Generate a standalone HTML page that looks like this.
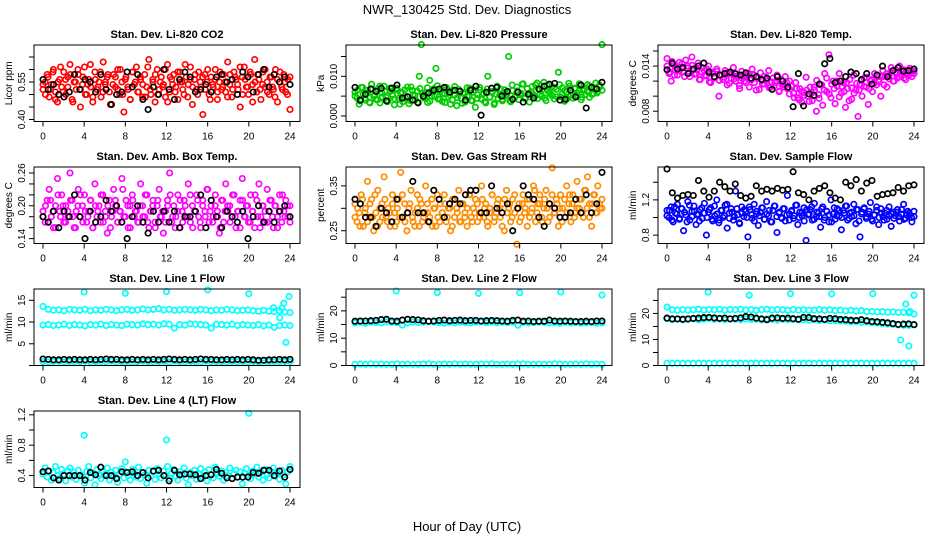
<!DOCTYPE html>
<html><head><meta charset="utf-8">
<style>
body{margin:0;background:#fff;}
svg{display:block;font-family:"Liberation Sans",Arial,sans-serif;}
</style></head>
<body>
<svg id="chart" width="936" height="540" viewBox="0 0 936 540">
<rect width="936" height="540" fill="#fff"/>
<text x="467" y="14" font-size="13" text-anchor="middle">NWR_130425  Std. Dev. Diagnostics</text>
<text x="467" y="531" font-size="13" text-anchor="middle">Hour of Day (UTC)</text>
</svg>
<script>
const hourTicks=[0,4,8,12,16,20,24];
const co2Color=[0.52,0.55,0.58,0.49,0.54,0.60,0.51,0.47,0.56,0.53,0.59,0.50,0.57,0.62,0.48,0.55,0.52,0.58,0.45,0.54,0.61,0.50,0.56,0.53,0.47,0.59,0.52,0.55,0.49,0.63,0.54,0.57,0.51,0.46,0.58,0.53,0.60,0.50,0.55,0.43,0.57,0.52,0.48,0.59,0.54,0.61,0.51,0.56,0.49,0.58,0.53,0.64,0.50,0.55,0.47,0.60,0.52,0.57,0.54,0.49,0.62,0.51,0.56,0.58,0.53,0.48,0.59,0.55,0.50,0.57,0.54,0.61,0.46,0.56,0.52,0.59,0.53,0.42,0.58,0.55,0.50,0.57,0.53,0.60,0.48,0.55,0.52,0.58,0.51,0.63,0.54,0.49,0.59,0.56,0.52,0.45,0.57,0.61,0.53,0.50,0.58,0.54,0.64,0.51,0.56,0.48,0.59,0.53,0.55,0.50,0.57,0.52,0.60,0.47,0.55,0.53,0.58,0.51,0.56,0.44];
const co2ColorB=[0.54,0.50,0.57,0.52,0.59,0.48,0.55,0.61,0.51,0.56,0.53,0.58,0.47,0.55,0.60,0.52,0.57,0.50,0.54,0.62,0.49,0.56,0.53,0.59,0.51,0.55,0.58,0.46,0.54,0.57,0.52,0.60,0.50,0.56,0.53,0.48,0.59,0.55,0.51,0.57,0.54,0.49,0.61,0.52,0.56,0.58,0.50,0.55,0.53,0.60,0.47,0.57,0.54,0.51,0.59,0.55,0.52,0.62,0.49,0.56,0.53,0.58,0.50,0.55,0.57,0.52,0.60,0.48,0.54,0.56,0.51,0.59,0.53,0.55,0.49,0.58,0.52,0.57,0.54,0.61,0.50,0.56,0.53,0.59,0.47,0.55,0.58,0.52,0.54,0.60,0.51,0.57,0.53,0.49,0.56,0.59,0.52,0.55,0.50,0.57];
const co2Black=[0.56,0.52,0.54,0.50,0.49,0.51,0.58,0.52,0.56,0.55,0.51,0.58,0.52,0.46,0.50,0.51,0.59,0.53,0.58,0.48,0.44,0.53,0.50,0.60,0.52,0.48,0.56,0.59,0.57,0.51,0.52,0.54,0.51,0.57,0.58,0.55,0.56,0.50,0.59,0.57,0.51,0.58,0.60,0.53,0.58,0.55,0.57,0.54];
const presColor=[0.0060,0.0045,0.0030,0.0072,0.0055,0.0040,0.0065,0.0035,0.0080,0.0050,0.0042,0.0068,0.0033,0.0058,0.0075,0.0047,0.0038,0.0062,0.0052,0.0028,0.0070,0.0044,0.0057,0.0036,0.0066,0.0049,0.0031,0.0073,0.0054,0.0041,0.0063,0.0100,0.0180,0.0046,0.0059,0.0034,0.0090,0.0051,0.0069,0.0120,0.0043,0.0061,0.0037,0.0056,0.0072,0.0048,0.0030,0.0064,0.0053,0.0026,0.0067,0.0045,0.0058,0.0035,0.0071,0.0050,0.0039,0.0060,0.0022,0.0054,0.0066,0.0042,0.0057,0.0033,0.0100,0.0047,0.0062,0.0029,0.0055,0.0044,0.0068,0.0038,0.0059,0.0052,0.0150,0.0036,0.0064,0.0048,0.0073,0.0041,0.0057,0.0081,0.0046,0.0069,0.0035,0.0061,0.0053,0.0078,0.0044,0.0066,0.0050,0.0085,0.0039,0.0063,0.0056,0.0074,0.0043,0.0067,0.0110,0.0048,0.0071,0.0037,0.0060,0.0082,0.0052,0.0045,0.0068,0.0058,0.0076,0.0041,0.0064,0.0054,0.0079,0.0047,0.0070,0.0057,0.0083,0.0062,0.0074,0.0180];
const presColorB=[0.0050,0.0065,0.0038,0.0072,0.0045,0.0058,0.0033,0.0068,0.0052,0.0041,0.0075,0.0048,0.0062,0.0036,0.0070,0.0055,0.0043,0.0066,0.0030,0.0059,0.0047,0.0073,0.0039,0.0064,0.0051,0.0035,0.0069,0.0056,0.0044,0.0071,0.0037,0.0061,0.0049,0.0076,0.0042,0.0057,0.0034,0.0067,0.0053,0.0040,0.0074,0.0046,0.0063,0.0032,0.0058,0.0050,0.0070,0.0038,0.0065,0.0044,0.0072,0.0054,0.0036,0.0068,0.0048,0.0060,0.0033,0.0075,0.0052,0.0042,0.0066,0.0057,0.0039,0.0078,0.0047,0.0063,0.0055,0.0080,0.0044,0.0069,0.0058,0.0074,0.0049,0.0083,0.0053,0.0066,0.0045,0.0077,0.0060,0.0051,0.0072,0.0048,0.0079,0.0056,0.0064,0.0043,0.0075,0.0059,0.0070,0.0052,0.0081,0.0047,0.0067,0.0062,0.0076,0.0054,0.0071,0.0058,0.0078,0.0065];
const presBlack=[0.0072,0.0040,0.0055,0.0068,0.0062,0.0070,0.0038,0.0070,0.0078,0.0045,0.0048,0.0040,0.0033,0.0050,0.0058,0.0065,0.0068,0.0072,0.0060,0.0065,0.0062,0.0040,0.0065,0.0075,0.0002,0.0060,0.0070,0.0072,0.0050,0.0062,0.0042,0.0060,0.0035,0.0055,0.0045,0.0068,0.0075,0.0080,0.0082,0.0040,0.0042,0.0065,0.0048,0.0078,0.0020,0.0072,0.0068,0.0085];
const tempColor=[0.0150,0.0130,0.0120,0.0142,0.0135,0.0128,0.0145,0.0138,0.0132,0.0148,0.0140,0.0126,0.0152,0.0136,0.0130,0.0144,0.0122,0.0138,0.0134,0.0127,0.0140,0.0118,0.0132,0.0125,0.0136,0.0100,0.0128,0.0122,0.0134,0.0115,0.0130,0.0124,0.0138,0.0120,0.0127,0.0110,0.0133,0.0125,0.0118,0.0130,0.0122,0.0136,0.0128,0.0108,0.0124,0.0131,0.0116,0.0126,0.0120,0.0134,0.0112,0.0124,0.0118,0.0128,0.0106,0.0122,0.0115,0.0126,0.0110,0.0120,0.0113,0.0104,0.0118,0.0098,0.0110,0.0092,0.0105,0.0125,0.0100,0.0112,0.0094,0.0108,0.0080,0.0102,0.0115,0.0088,0.0130,0.0106,0.0155,0.0098,0.0120,0.0090,0.0113,0.0130,0.0104,0.0118,0.0085,0.0110,0.0122,0.0096,0.0128,0.0108,0.0073,0.0116,0.0100,0.0124,0.0112,0.0089,0.0120,0.0106,0.0130,0.0115,0.0122,0.0100,0.0134,0.0126,0.0112,0.0128,0.0138,0.0120,0.0132,0.0124,0.0140,0.0128,0.0135,0.0122,0.0130,0.0137,0.0126,0.0133];
const tempColorB=[0.0140,0.0132,0.0146,0.0128,0.0138,0.0134,0.0143,0.0126,0.0137,0.0131,0.0141,0.0129,0.0135,0.0122,0.0132,0.0127,0.0136,0.0119,0.0130,0.0124,0.0133,0.0121,0.0128,0.0125,0.0131,0.0117,0.0129,0.0123,0.0126,0.0114,0.0124,0.0120,0.0127,0.0112,0.0122,0.0118,0.0125,0.0109,0.0121,0.0116,0.0123,0.0111,0.0119,0.0114,0.0120,0.0107,0.0116,0.0112,0.0118,0.0103,0.0114,0.0098,0.0110,0.0095,0.0106,0.0101,0.0108,0.0093,0.0104,0.0112,0.0121,0.0097,0.0115,0.0108,0.0124,0.0103,0.0116,0.0110,0.0120,0.0099,0.0113,0.0106,0.0118,0.0094,0.0111,0.0104,0.0117,0.0108,0.0121,0.0113,0.0125,0.0110,0.0122,0.0117,0.0128,0.0119,0.0126,0.0115,0.0130,0.0123,0.0133,0.0120,0.0129,0.0126,0.0136,0.0124,0.0131,0.0128,0.0134,0.0130];
const tempBlack=[0.0135,0.0144,0.0136,0.0138,0.0130,0.0136,0.0140,0.0144,0.0132,0.0126,0.0128,0.0130,0.0132,0.0130,0.0128,0.0131,0.0124,0.0126,0.0122,0.0124,0.0109,0.0126,0.0120,0.0112,0.0086,0.0130,0.0087,0.0103,0.0101,0.0116,0.0143,0.0150,0.0118,0.0120,0.0126,0.0132,0.0130,0.0122,0.0130,0.0116,0.0128,0.0140,0.0126,0.0134,0.0138,0.0133,0.0134,0.0136];
const ambColor=[0.19,0.17,0.21,0.23,0.18,0.16,0.20,0.25,0.19,0.22,0.17,0.20,0.18,0.26,0.21,0.16,0.19,0.23,0.18,0.20,0.22,0.17,0.19,0.21,0.16,0.24,0.18,0.20,0.22,0.17,0.19,0.15,0.21,0.18,0.23,0.20,0.17,0.19,0.25,0.18,0.21,0.16,0.20,0.22,0.18,0.19,0.17,0.24,0.20,0.18,0.22,0.16,0.19,0.21,0.17,0.20,0.23,0.18,0.15,0.19,0.21,0.26,0.17,0.20,0.18,0.22,0.16,0.19,0.21,0.18,0.24,0.17,0.20,0.19,0.22,0.18,0.16,0.21,0.19,0.23,0.17,0.20,0.18,0.22,0.19,0.15,0.21,0.17,0.24,0.19,0.20,0.18,0.22,0.16,0.19,0.21,0.25,0.18,0.20,0.17,0.22,0.19,0.16,0.21,0.24,0.18,0.20,0.17,0.23,0.19,0.21,0.16,0.20,0.18,0.22,0.17,0.19,0.21,0.18,0.20];
const ambColorB=[0.18,0.20,0.17,0.21,0.19,0.16,0.22,0.18,0.20,0.17,0.19,0.21,0.18,0.16,0.20,0.22,0.17,0.19,0.18,0.21,0.16,0.20,0.19,0.17,0.22,0.18,0.20,0.16,0.19,0.21,0.17,0.19,0.23,0.18,0.20,0.16,0.21,0.19,0.17,0.20,0.18,0.22,0.17,0.19,0.20,0.16,0.21,0.18,0.19,0.17,0.20,0.22,0.18,0.16,0.19,0.21,0.17,0.20,0.18,0.22,0.16,0.19,0.21,0.17,0.20,0.18,0.23,0.19,0.17,0.20,0.18,0.16,0.21,0.19,0.20,0.17,0.22,0.18,0.19,0.16,0.21,0.18,0.20,0.17,0.19,0.22,0.18,0.16,0.20,0.19,0.17,0.21,0.18,0.20,0.16,0.19,0.22,0.18,0.20,0.17];
const ambBlack=[0.18,0.17,0.19,0.16,0.19,0.18,0.22,0.18,0.14,0.19,0.17,0.18,0.21,0.19,0.20,0.17,0.14,0.18,0.20,0.17,0.15,0.19,0.17,0.19,0.17,0.19,0.16,0.18,0.18,0.19,0.22,0.16,0.21,0.18,0.16,0.19,0.18,0.17,0.19,0.14,0.18,0.20,0.17,0.19,0.17,0.19,0.20,0.18];
const rhColor=[0.31,0.27,0.29,0.33,0.26,0.30,0.36,0.28,0.32,0.25,0.29,0.34,0.27,0.31,0.37,0.28,0.30,0.26,0.33,0.29,0.27,0.32,0.38,0.28,0.31,0.25,0.30,0.34,0.27,0.29,0.33,0.26,0.31,0.28,0.35,0.29,0.27,0.32,0.30,0.26,0.28,0.31,0.29,0.33,0.27,0.30,0.25,0.32,0.28,0.30,0.34,0.27,0.31,0.29,0.26,0.33,0.28,0.30,0.32,0.27,0.29,0.35,0.28,0.31,0.26,0.30,0.33,0.27,0.29,0.32,0.28,0.31,0.25,0.34,0.30,0.27,0.32,0.29,0.22,0.31,0.28,0.33,0.30,0.26,0.32,0.29,0.35,0.27,0.31,0.33,0.28,0.30,0.34,0.27,0.31,0.39,0.29,0.32,0.26,0.33,0.30,0.28,0.35,0.31,0.27,0.33,0.29,0.36,0.30,0.32,0.28,0.34,0.37,0.31,0.26,0.33,0.29,0.35,0.30,0.32];
const rhColorB=[0.28,0.30,0.26,0.32,0.29,0.27,0.31,0.28,0.33,0.26,0.30,0.28,0.32,0.27,0.29,0.31,0.26,0.30,0.28,0.33,0.27,0.29,0.31,0.28,0.26,0.30,0.32,0.27,0.29,0.31,0.28,0.26,0.30,0.33,0.27,0.29,0.31,0.28,0.30,0.26,0.32,0.29,0.27,0.31,0.28,0.30,0.33,0.27,0.29,0.31,0.28,0.32,0.30,0.27,0.29,0.33,0.28,0.31,0.30,0.26,0.32,0.29,0.31,0.28,0.33,0.30,0.27,0.31,0.29,0.32,0.28,0.30,0.34,0.29,0.31,0.27,0.32,0.30,0.28,0.33,0.29,0.31,0.30,0.27,0.32,0.29,0.33,0.31,0.28,0.30,0.32,0.29,0.34,0.30,0.28,0.31,0.33,0.29,0.31,0.30];
const rhBlack=[0.32,0.31,0.28,0.28,0.26,0.30,0.29,0.27,0.32,0.28,0.29,0.36,0.29,0.29,0.27,0.34,0.32,0.28,0.31,0.32,0.31,0.33,0.34,0.34,0.29,0.29,0.35,0.30,0.29,0.31,0.25,0.30,0.35,0.33,0.32,0.28,0.26,0.31,0.30,0.28,0.28,0.29,0.32,0.29,0.33,0.29,0.31,0.38];
const flowColor=[1.08,1.00,1.12,0.95,1.05,1.15,0.98,1.10,0.85,1.03,1.18,0.97,1.07,1.13,0.92,1.04,1.09,0.99,1.16,0.80,1.06,1.11,0.96,1.02,1.20,0.94,1.08,1.00,1.14,0.88,1.05,1.10,0.97,1.30,1.03,0.93,1.12,1.01,1.07,0.78,1.09,0.99,1.15,1.04,0.91,1.06,1.11,0.98,1.18,1.02,0.95,1.08,1.13,0.83,1.05,1.00,1.10,0.96,1.25,1.04,1.07,0.99,1.14,0.92,1.06,1.02,1.11,0.74,1.03,1.09,0.97,1.16,1.01,1.05,0.89,1.12,1.00,1.07,0.95,1.20,1.04,0.98,1.10,1.02,0.86,1.08,1.13,0.97,1.05,1.01,1.15,0.93,1.09,0.78,1.06,1.11,0.99,1.04,1.17,0.96,1.03,1.08,0.92,1.10,1.01,1.05,0.98,1.12,0.90,1.06,1.02,1.09,0.96,1.04,1.15,0.99,1.07,1.03,0.95,1.01];
const flowColorB=[1.02,1.08,0.97,1.12,1.04,0.99,1.10,1.06,0.95,1.14,1.01,1.07,1.03,0.96,1.11,1.05,1.00,1.09,0.98,1.13,1.04,0.97,1.08,1.02,1.15,0.99,1.06,1.01,1.10,0.94,1.05,1.09,1.00,1.12,1.03,0.96,1.07,1.02,1.11,0.98,1.04,1.08,0.95,1.13,1.01,1.06,0.99,1.10,1.03,0.97,1.08,1.02,1.14,1.00,1.05,0.96,1.09,1.04,1.12,0.98,1.06,1.01,1.10,0.97,1.07,1.03,0.95,1.11,1.02,1.08,1.00,1.05,1.13,0.99,1.06,1.02,1.09,0.96,1.04,1.10,1.01,1.07,0.98,1.03,1.12,1.00,1.05,0.97,1.08,1.02,1.04,0.99,1.06,1.01,1.09,0.98,1.03,1.05,1.00,1.07];
const flowBlack=[1.55,1.28,1.22,1.25,1.26,1.25,1.42,1.30,1.23,1.30,1.40,1.35,1.30,1.38,1.25,1.22,1.24,1.36,1.30,1.32,1.30,1.33,1.31,1.32,1.52,1.28,1.26,1.20,1.30,1.33,1.36,1.28,1.22,1.20,1.40,1.36,1.43,1.30,1.39,1.42,1.24,1.26,1.27,1.28,1.34,1.30,1.36,1.37];
const l1High=[13.6,12.9,12.7,12.8,12.6,12.9,12.8,12.7,12.9,12.6,12.8,12.7,12.9,12.8,12.6,12.8,12.9,12.7,12.8,13.0,12.8,12.9,13.1,12.8,12.9,12.7,12.8,12.9,12.8,12.7,12.9,12.8,12.6,12.8,12.7,12.9,12.8,12.6,12.7,12.8,12.6,12.5,12.7,12.5,12.4,12.6,12.3,12.2];
const l1Mid=[9.3,9.4,9.2,9.3,9.5,9.2,9.4,9.3,9.1,9.4,9.3,9.5,9.2,9.4,9.3,9.2,9.5,9.4,9.3,9.6,9.4,9.5,9.3,9.6,9.5,8.6,9.4,9.3,9.6,9.5,9.4,9.3,8.6,9.5,9.4,9.3,9.5,9.2,9.4,9.3,9.2,9.4,9.1,9.3,8.8,9.2,9.3,9.2];
const l1Low=[0.9,0.8,0.9,1.0,0.8,0.9,0.9,0.8,1.0,0.9,0.8,0.9,0.9,1.0,0.8,0.9,0.9,0.8,0.9,1.0,0.9,0.8,0.9,0.9,0.8,1.0,0.9,0.8,0.9,0.9,0.8,1.0,0.9,0.8,0.9,0.9,0.8,0.9,0.9,0.8,0.9,0.8,0.6,0.9,0.8,0.9,0.9,0.9];
const l1Black=[1.5,1.4,1.3,1.3,1.4,1.3,1.4,1.3,1.3,1.4,1.3,1.4,1.5,1.4,1.4,1.3,1.3,1.4,1.3,1.4,1.3,1.4,1.3,1.4,1.5,1.4,1.3,1.4,1.3,1.4,1.5,1.4,1.4,1.3,1.3,1.4,1.3,1.4,1.3,1.4,1.3,1.2,1.2,1.3,1.3,1.4,1.3,1.4];
const l1OutHours=[4,8,12,16,20,23.0,23.2,23.4,23.6,23.9,22.4];
const l1OutVals=[16.9,16.6,17.0,17.4,16.5,11.0,13.2,14.3,5.3,15.9,13.3];
const l2Band=[15.6,15.8,15.5,15.9,15.7,15.6,16.0,15.8,15.7,14.8,15.6,15.9,15.7,15.8,16.1,15.9,15.7,15.5,15.8,15.6,15.9,15.7,15.6,15.8,16.0,15.7,15.9,15.6,15.8,15.7,15.9,14.7,15.8,15.6,15.7,15.9,15.8,15.6,15.7,15.5,15.8,15.6,15.7,15.5,15.6,15.7,15.5,15.6];
const l2Low=[0.4,0.5,0.4,0.6,0.4,0.5,0.4,0.4,0.6,0.4,0.5,0.4,0.4,0.5,0.6,0.4,0.4,0.5,0.4,0.6,0.4,0.5,0.4,0.4,0.5,0.4,0.6,0.4,0.4,0.5,0.4,0.5,0.6,0.4,0.4,0.5,0.4,0.4,0.6,0.5,0.4,0.4,0.5,0.4,0.6,0.4,0.5,0.4];
const l2Black=[16.2,16.3,16.3,16.4,16.5,16.8,16.9,16.3,16.2,16.6,16.9,16.8,16.7,16.4,16.2,16.3,16.5,16.6,16.4,16.5,16.6,16.4,16.5,16.5,16.3,16.4,16.5,16.4,16.3,16.2,16.5,16.6,16.2,16.3,16.1,16.2,16.2,16.6,16.3,16.2,16.3,16.2,16.1,16.1,16.2,16.1,16.3,16.3];
const l2OutHours=[4,8,12,16,20,24];
const l2OutVals=[27.3,26.7,26.4,26.6,26.9,25.8];
const l3High=[22.5,21.4,21.2,21.5,21.3,21.4,21.6,21.3,21.5,21.4,21.6,21.3,21.5,21.4,21.6,21.3,21.5,21.2,21.4,21.6,21.3,21.5,21.4,21.2,21.5,21.3,21.4,21.2,21.3,21.5,21.2,21.4,21.1,21.3,21.0,21.2,20.9,21.1,20.7,20.8,20.6,20.7,20.5,20.6,20.4,20.5,20.2,19.8];
const l3Mid=[18.0,17.6,17.8,17.5,17.7,17.9,17.6,17.8,18.1,17.7,17.9,17.6,18.0,17.8,17.6,17.9,17.7,17.8,17.6,17.9,17.7,17.5,17.8,17.6,17.7,17.5,17.6,17.4,17.6,17.3,17.5,17.2,17.3,17.1,17.0,16.8,16.9,16.6,16.7,16.4,16.3,16.1,15.9,15.8,15.6,15.5,15.4,15.6];
const l3Low=[0.9,0.8,0.9,0.8,0.9,0.8,0.9,0.9,0.8,0.9,0.8,0.9,0.9,0.8,0.9,0.8,0.9,0.9,0.8,0.9,0.8,0.9,0.9,0.8,0.9,0.8,0.9,0.9,0.8,0.9,0.8,0.9,0.9,0.8,0.9,0.8,0.9,0.9,0.8,0.9,0.8,0.9,0.9,0.8,0.9,0.8,0.9,0.9];
const l3Black=[18.2,17.9,17.9,17.8,17.9,18.1,18.2,18.4,18.5,18.3,18.1,18.2,17.9,18.1,18.3,18.8,18.6,18.2,17.9,17.6,18.2,18.3,18.1,18.2,18.0,17.8,18.5,18.4,18.0,17.9,17.7,18.1,18.0,17.7,17.6,17.4,17.3,17.6,17.2,16.9,16.8,16.6,16.4,16.1,15.8,15.9,16.0,15.7];
const l3OutHours=[4,8,12,16,20,22.7,23.2,23.5,23.6,24];
const l3OutVals=[28.2,27.0,27.6,27.5,27.6,9.8,23.6,7.5,20.8,27.0];
const l4Color=[0.42,0.50,0.38,0.46,0.34,0.44,0.52,0.40,0.36,0.48,0.42,0.33,0.46,0.50,0.38,0.44,0.35,0.47,0.41,0.39,0.30,0.45,0.52,0.37,0.43,0.28,0.48,0.40,0.36,0.46,0.42,0.50,0.34,0.44,0.39,0.47,0.31,0.42,0.49,0.37,0.45,0.40,0.34,0.48,0.43,0.38,0.51,0.36,0.44,0.41,0.30,0.47,0.39,0.45,0.35,0.49,0.42,0.37,0.46,0.40,0.52,0.36,0.43,0.48,0.39,0.34,0.45,0.41,0.50,0.37,0.28,0.44,0.40,0.47,0.35,0.42,0.49,0.38,0.45,0.33,0.48,0.41,0.37,0.51,0.43,0.39,0.46,0.34,0.44,0.40,0.50,0.36,0.42,0.47,0.38,0.45,0.29,0.43,0.49,0.40,0.36,0.46,0.42,0.51,0.38,0.44,0.34,0.48,0.41,0.37,0.45,0.50,0.39,0.43,0.35,0.47,0.41,0.29,0.45,0.52];
const l4Black=[0.45,0.46,0.37,0.34,0.40,0.40,0.40,0.40,0.34,0.44,0.41,0.51,0.40,0.40,0.36,0.45,0.44,0.45,0.40,0.44,0.37,0.46,0.47,0.40,0.33,0.47,0.41,0.42,0.42,0.41,0.36,0.40,0.41,0.48,0.43,0.37,0.36,0.38,0.38,0.38,0.44,0.43,0.47,0.47,0.40,0.46,0.38,0.48];
const l4OutHours=[4,8,12,20];
const l4OutVals=[0.93,0.58,0.87,1.22];

const panels=[
 {name:'co2',title:'Stan. Dev. Li-820 CO2',ylab:'Licor ppm',row:0,col:0,ymin:0.392,ymax:0.698,ticks:[0.40,0.45,0.50,0.55,0.60,0.65],labels:[0.40,0.55],fmt:2,series:[[co2Color,'#ff0000'],[co2ColorB,'#ff0000'],[co2Black,'#000']]},
 {name:'pressure',title:'Stan. Dev. Li-820 Pressure',ylab:'kPa',row:0,col:1,ymin:-0.0014,ymax:0.0179,ticks:[0,0.005,0.010,0.015],labels:[0,0.010],fmt:3,series:[[presColor,'#00cc00'],[presColorB,'#00cc00'],[presBlack,'#000']]},
 {name:'li820-temp',title:'Stan. Dev. Li-820 Temp.',ylab:'degrees C',row:0,col:2,ymin:0.00663,ymax:0.0168,ticks:[0.008,0.010,0.012,0.014,0.016],labels:[0.008,0.014],fmt:3,series:[[tempColor,'#ff00ff'],[tempColorB,'#ff00ff'],[tempBlack,'#000']]},
 {name:'amb-box-temp',title:'Stan. Dev. Amb. Box Temp.',ylab:'degrees C',row:1,col:0,ymin:0.131,ymax:0.271,ticks:[0.14,0.16,0.18,0.20,0.22,0.24,0.26],labels:[0.14,0.20,0.26],fmt:2,series:[[ambColor,'#ff00ff'],[ambColorB,'#ff00ff'],[ambBlack,'#000']]},
 {name:'gas-stream-rh',title:'Stan. Dev. Gas Stream RH',ylab:'percent',row:1,col:1,ymin:0.2216,ymax:0.392,ticks:[0.25,0.30,0.35],labels:[0.25,0.35],fmt:2,series:[[rhColor,'#ff8c00'],[rhColorB,'#ff8c00'],[rhBlack,'#000']]},
 {name:'sample-flow',title:'Stan. Dev. Sample Flow',ylab:'ml/min',row:1,col:2,ymin:0.705,ymax:1.573,ticks:[0.8,1.0,1.2,1.4],labels:[0.8,1.2],fmt:1,series:[[flowColor,'#0000ff'],[flowColorB,'#0000ff'],[flowBlack,'#000']]},
 {name:'line1-flow',title:'Stan. Dev. Line 1 Flow',ylab:'ml/min',row:2,col:0,ymin:0,ymax:17.6,ticks:[0,5,10,15],labels:[5,10,15],fmt:0,series:[[l1High,'#00ffff'],[l1Mid,'#00ffff'],[l1Low,'#00ffff'],[l1Black,'#000']],out:[l1OutHours,l1OutVals]},
 {name:'line2-flow',title:'Stan. Dev. Line 2 Flow',ylab:'ml/min',row:2,col:1,ymin:0,ymax:28,ticks:[0,5,10,15,20,25],labels:[0,10,20],fmt:0,series:[[l2Band,'#00ffff'],[l2Low,'#00ffff'],[l2Black,'#000']],out:[l2OutHours,l2OutVals]},
 {name:'line3-flow',title:'Stan. Dev. Line 3 Flow',ylab:'ml/min',row:2,col:2,ymin:0,ymax:29.4,ticks:[0,5,10,15,20,25],labels:[0,10,20],fmt:0,series:[[l3High,'#00ffff'],[l3Mid,'#00ffff'],[l3Low,'#00ffff'],[l3Black,'#000']],out:[l3OutHours,l3OutVals]},
 {name:'line4-flow',title:'Stan. Dev. Line 4 (LT) Flow',ylab:'ml/min',row:3,col:0,ymin:0.243,ymax:1.25,ticks:[0.4,0.6,0.8,1.0,1.2],labels:[0.4,0.8,1.2],fmt:1,series:[[l4Color,'#00ffff'],[l4Black,'#000']],out:[l4OutHours,l4OutVals]}
];

const svg=document.getElementById('chart');
const NS='http://www.w3.org/2000/svg';
function mk(tag,attrs,parent){const e=document.createElementNS(NS,tag);for(const k in attrs)e.setAttribute(k,attrs[k]);parent.appendChild(e);return e;}

panels.forEach(p=>{
 const L=34+312*p.col, R=300+312*p.col, T=45+122*p.row, B=T+76.5;
 const ax0=43+312*p.col, ax1=290+312*p.col;
 const xs=h=>ax0+h/24*(ax1-ax0);
 const ys=v=>B-(v-p.ymin)/(p.ymax-p.ymin)*(B-T);
 const g=mk('g',{},svg);
 
 
 const t=mk('text',{x:(L+R)/2,y:T-7,'font-size':11,'font-weight':'bold','text-anchor':'middle'},g);
 t.textContent=p.title;
 
 
 const pts=mk('g',{fill:'none','stroke-width':1.7},g);
 
 
 p.series.forEach(([arr,col])=>{
  arr.forEach((v,i)=>{
   const h=i*24/(arr.length-1);
   const c=mk('circle',{cx:xs(h).toFixed(1),cy:ys(v).toFixed(1),r:2.7,stroke:col},pts);
   
   
  });
 });
 if(p.out){
  p.out[0].forEach((h,i)=>{
   const c=mk('circle',{cx:xs(h).toFixed(1),cy:ys(p.out[1][i]).toFixed(1),r:2.7,stroke:'#00ffff'},pts);
   
   
  });
 }
 const box=mk('rect',{x:L,y:T,width:R-L,height:B-T,fill:'none',stroke:'#000','stroke-width':1},g);
 
 
 const xa=mk('g',{},g);
 
 
 mk('line',{x1:xs(0),x2:xs(24),y1:B,y2:B,stroke:'#000'},xa);
 hourTicks.forEach(h=>{
  mk('line',{x1:xs(h),x2:xs(h),y1:B,y2:B+5,stroke:'#000'},xa);
  const tl=mk('text',{x:xs(h),y:B+18,'font-size':10,'text-anchor':'middle'},xa);
  tl.textContent=h;
  
  
 });
 const ya=mk('g',{},g);
 
 
 mk('line',{x1:L,x2:L,y1:ys(p.ticks[0]),y2:ys(p.ticks[p.ticks.length-1]),stroke:'#000'},ya);
 p.ticks.forEach(v=>{mk('line',{x1:L-5,x2:L,y1:ys(v),y2:ys(v),stroke:'#000'},ya);});
 p.labels.forEach(v=>{
  const yl=mk('text',{x:0,y:0,'font-size':10,'text-anchor':'middle',transform:`translate(${L-9},${ys(v)}) rotate(-90)`},ya);
  yl.textContent=v.toFixed(p.fmt);
  
  
 });
 const yt=mk('text',{x:0,y:0,'font-size':10,'text-anchor':'middle',transform:`translate(${L-22},${(T+B)/2}) rotate(-90)`},g);
 yt.textContent=p.ylab;
 
 
});
</script>
</body></html>
